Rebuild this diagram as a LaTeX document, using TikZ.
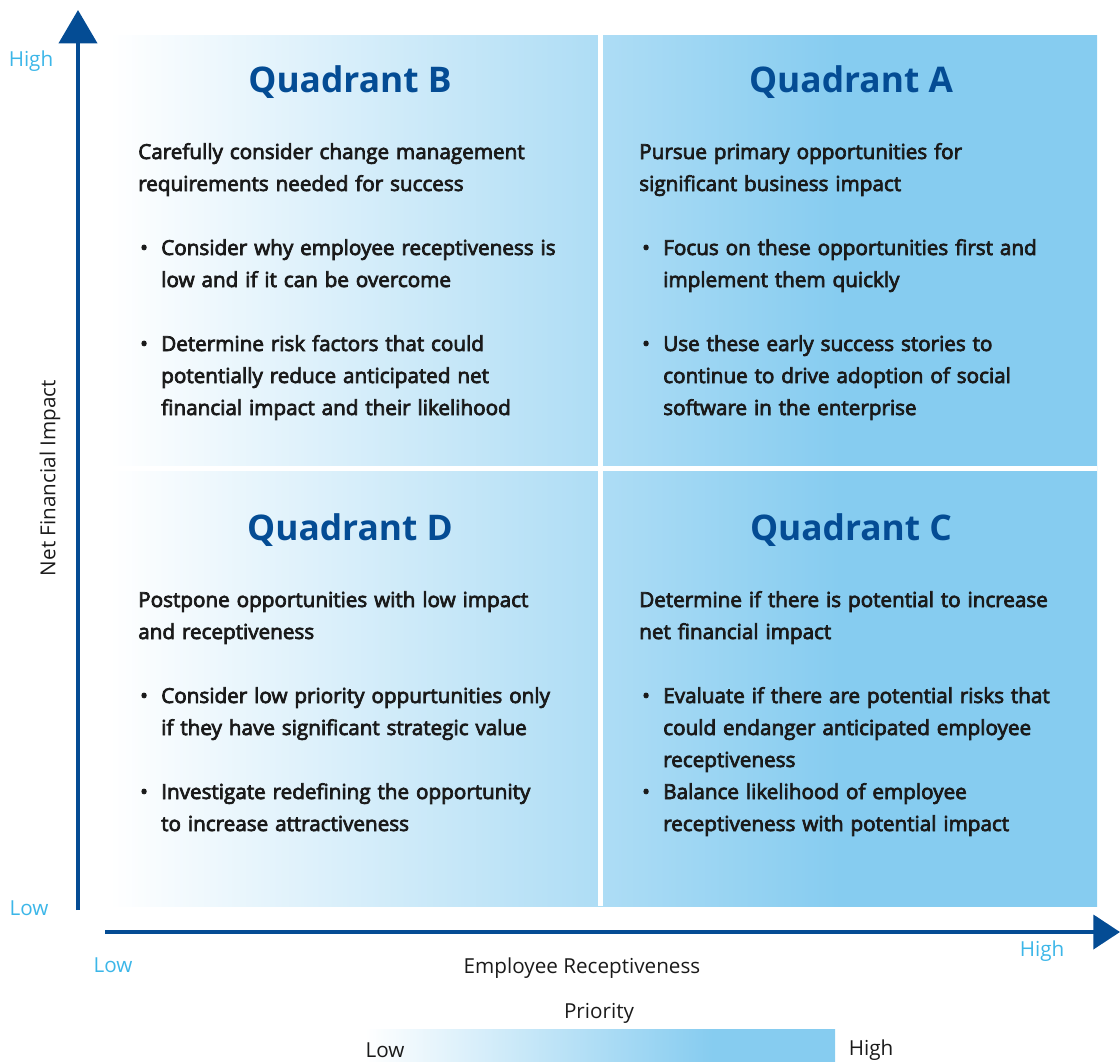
\documentclass[tikz,border=0pt]{standalone}
\usepackage{fontspec}
\setmainfont{Open Sans}
\newfontfamily\semifont{Open Sans}[FakeBold=3.5]
\usetikzlibrary{arrows.meta}
\usetikzlibrary{calc}
\hyphenpenalty=10000

\definecolor{quadnavy}{RGB}{4,76,148}
\definecolor{quadfill}{RGB}{134,204,240}
\definecolor{axislight}{RGB}{60,182,232}
\definecolor{bodyink}{RGB}{26,26,26}
\pgfdeclarehorizontalshading{quadshade}{100bp}{color(0bp)=(white); color(25bp)=(white); color(62bp)=(quadfill); color(100bp)=(quadfill)}

\tikzset{
  qtitle/.style={anchor=base, inner sep=0pt, text=quadnavy, font=\fontsize{26.5}{30}\selectfont\bfseries},
  qbody/.style={anchor=base west, inner sep=0pt, text width=340pt, align=left, text=bodyink, font=\semifont\fontsize{15.5}{24}\selectfont},
  axislabel/.style={text=axislight, font=\fontsize{15.5}{18}\selectfont},
  axisname/.style={text=bodyink, font=\fontsize{15.5}{18}\selectfont},
  yarrow/.style={line width=3pt, draw=quadnavy, -{Triangle[width=28.5pt,length=25pt]}},
  xarrow/.style={line width=3pt, draw=quadnavy, -{Triangle[width=25.5pt,length=20pt]}},
}
\newcommand{\bul}{\llap{\textbullet\hspace{10pt}}}

\begin{document}
\begin{tikzpicture}[x=0.75pt,y=-0.75pt]
    \useasboundingbox (0,0) rectangle (1120,1061);

    %% define edges
    \def\fieldL{110};
    \def\fieldR{1097};
    \def\fieldT{35};
    \def\fieldB{906};

    %% shaded field with white gaps
    \shade[shading=quadshade] (\fieldL,\fieldT) rectangle (\fieldR,\fieldB);
    \fill[white] (598,\fieldT) rectangle (603,\fieldB);
    \fill[white] (\fieldL,466) rectangle (\fieldR,471);

    %% axes
    \coordinate (yfoot) at (78,910);
    \coordinate (ytip) at (78,10);
    \coordinate (xfoot) at (105,932);
    \coordinate (xtip) at (1120,932);
    \draw[yarrow] (yfoot) -- (ytip);
    \draw[xarrow] (xfoot) -- (xtip);

    %% axis labels
    \node[axislabel] (yhigh) at (31,61) {High};
    \node[axislabel] (ylow) at (29,908) {Low};
    \node[axislabel] (xlow) at (113,965) {Low};
    \node[axislabel] (xhigh) at (1042,951) {High};
    \node[axisname, rotate=90] (yname) at (50,478) {Net Financial Impact};
    \node[axisname] (xname) at (582,968) {Employee Receptiveness};

    %% priority bar
    \shade[shading=quadshade] (365,1029) rectangle (835,1061);
    \node[axisname] (prio) at (599,1013) {Priority};
    \node[axisname] (priolow) at (385,1050) {Low};
    \node[axisname] (priohigh) at (871,1050) {High};

    %% quadrant titles
    \node[qtitle] (titleB) at (350,92) {Quadrant B};
    \node[qtitle] (titleA) at (851,92) {Quadrant A};
    \node[qtitle] (titleD) at (350,540) {Quadrant D};
    \node[qtitle] (titleC) at (851,540) {Quadrant C};

    %% quadrant B
    \node[qbody] (leadB) at (138,159) {Carefully consider change management\\requirements needed for success};
    \node[qbody] (b1B) at (161,255) {\bul Consider why employee receptiveness is\\low and if it can be overcome};
    \node[qbody] (b2B) at (161,351) {\bul Determine risk factors that could\\potentially reduce anticipated net\\financial impact and their likelihood};

    %% quadrant A
    \node[qbody] (leadA) at (639,159) {Pursue primary opportunities for\\significant business impact};
    \node[qbody] (b1A) at (663,255) {\bul Focus on these opportunities first and\\implement them quickly};
    \node[qbody] (b2A) at (663,351) {\bul Use these early success stories to\\continue to drive adoption of social\\software in the enterprise};

    %% quadrant D
    \node[qbody] (leadD) at (138,607) {Postpone opportunities with low impact\\and receptiveness};
    \node[qbody] (b1D) at (161,703) {\bul Consider low priority oppurtunities only\\if they have significant strategic value};
    \node[qbody] (b2D) at (161,799) {\bul Investigate redefining the opportunity\\to increase attractiveness};

    %% quadrant C
    \node[qbody] (leadC) at (639,607) {Determine if there is potential to increase\\net financial impact};
    \node[qbody] (b1C) at (663,703) {\bul Evaluate if there are potential risks that\\could endanger anticipated employee\\receptiveness};
    \node[qbody] (b2C) at (663,799) {\bul Balance likelihood of employee\\receptiveness with potential impact};
\end{tikzpicture}
\end{document}
